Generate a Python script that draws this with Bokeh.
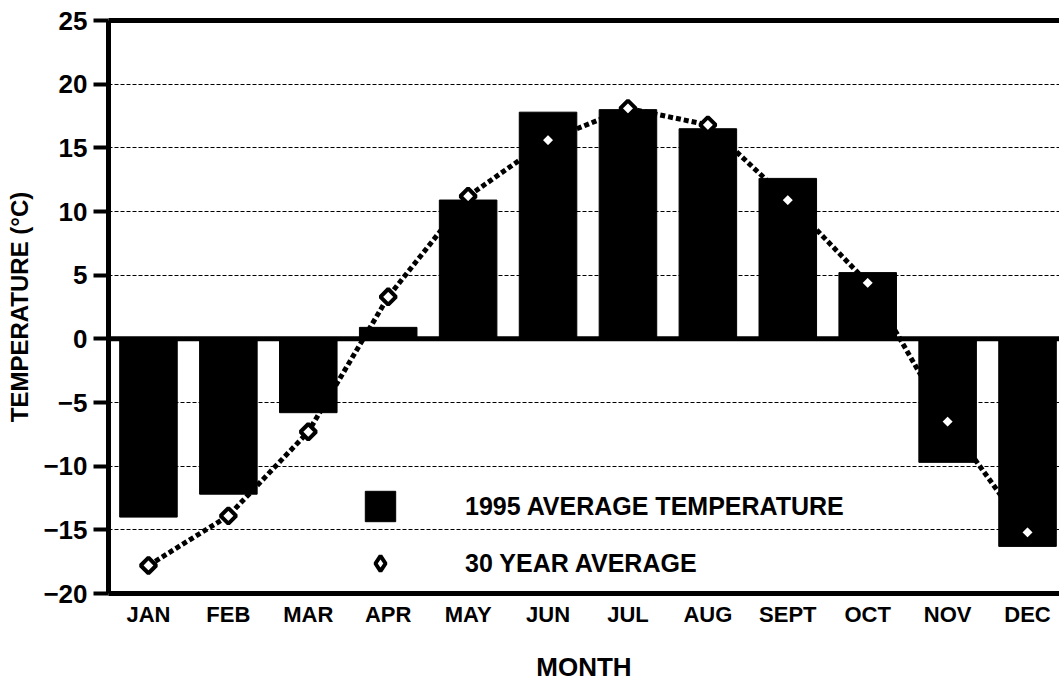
import numpy as np
from bokeh.plotting import figure
from bokeh.models import (Range1d, FixedTicker, LinearAxis, Span, Legend,
                          LegendItem, ColumnDataSource)
from bokeh.embed import file_html
from bokeh.resources import INLINE

months = ["JAN", "FEB", "MAR", "APR", "MAY", "JUN", "JUL", "AUG", "SEPT", "OCT", "NOV", "DEC"]
temp_1995 = [-14.0, -12.2, -5.8, 0.9, 10.9, 17.8, 18.0, 16.5, 12.6, 5.2, -9.7, -16.3]
avg_30yr = [-17.8, -13.9, -7.3, 3.3, 11.2, 15.6, 18.1, 16.8, 10.9, 4.4, -6.5, -15.2]
y_ticks = [-20, -15, -10, -5, 0, 5, 10, 15, 20, 25]
grid_ticks = [-15, -10, -5, 5, 10, 15, 20]

xpos = list(range(len(months)))
src = ColumnDataSource(dict(x=xpos, month=months, t1995=temp_1995, avg=avg_30yr))

FONT = "Liberation Sans"

p = figure(width=1059, height=684,
           x_range=Range1d(-0.5, 11.4), y_range=Range1d(-20, 25),
           output_backend="svg", toolbar_location=None,
           min_border_left=108, min_border_right=0,
           min_border_top=20, min_border_bottom=89)
p.outline_line_color = None
p.background_fill_color = "white"
p.border_fill_color = "white"

# grid
p.xgrid.visible = False
p.ygrid.ticker = FixedTicker(ticks=grid_ticks)
p.ygrid.grid_line_color = "black"
p.ygrid.grid_line_width = 1
p.ygrid.grid_line_dash = "4 2"

# y axis
ya = p.yaxis[0]
ya.ticker = FixedTicker(ticks=y_ticks)
ya.axis_line_width = 5
ya.axis_line_color = "black"
ya.major_tick_out = 15
ya.major_tick_in = 0
ya.major_tick_line_width = 4
ya.minor_tick_line_color = None
ya.major_label_text_font = FONT
ya.major_label_text_font_style = "bold"
ya.major_label_text_font_size = "26px"
ya.major_label_text_color = "black"
ya.major_label_standoff = 6
ya.axis_label = "TEMPERATURE (°C)"
ya.axis_label_text_font = FONT
ya.axis_label_text_font_style = "bold"
ya.axis_label_text_font_size = "24px"
ya.axis_label_text_color = "black"
ya.axis_label_standoff = 7

# x axis
xa = p.xaxis[0]
xa.ticker = FixedTicker(ticks=xpos)
xa.major_label_overrides = {i: m for i, m in zip(xpos, months)}
xa.axis_line_width = 5
xa.axis_line_color = "black"
xa.major_tick_out = 0
xa.major_tick_in = 0
xa.minor_tick_line_color = None
xa.major_label_text_font = FONT
xa.major_label_text_font_style = "bold"
xa.major_label_text_font_size = "22px"
xa.major_label_text_color = "black"
xa.major_label_standoff = 8
xa.axis_label = "MONTH"
xa.axis_label_text_font = FONT
xa.axis_label_text_font_style = "bold"
xa.axis_label_text_font_size = "26px"
xa.axis_label_text_color = "black"
xa.axis_label_standoff = 22

# top border line
top = LinearAxis(ticker=FixedTicker(ticks=[]), axis_line_width=5, axis_line_color="black",
                 major_tick_out=0, major_tick_in=0, minor_tick_line_color=None,
                 major_label_text_font_size="0px")
p.add_layout(top, "above")

# zero line
p.add_layout(Span(location=0, dimension="width", line_color="black", line_width=5))

bars = p.vbar(x="x", top="t1995", bottom=0, width=0.72, source=src,
              fill_color="black", line_color="black")
p.line(x="x", y="avg", source=src, line_color="black", line_width=5, line_dash="5 3")
p.scatter(x="x", y="avg", source=src, marker="square", angle=0.7853981634,
          size=11, line_width=4, fill_color="white", line_color="black")

# legend-only proxy glyph (no visible point) for the diamond shown in the key
key_src = ColumnDataSource(dict(x=np.array([np.nan]), y=np.array([np.nan])))
key_pts = p.scatter(x="x", y="y", source=key_src, marker="diamond", size=17,
                    line_width=4, fill_color="white", line_color="black")

legend = Legend(items=[LegendItem(label="1995 AVERAGE TEMPERATURE", renderers=[bars]),
                       LegendItem(label="30 YEAR AVERAGE", renderers=[key_pts])],
                location=(253, 11), glyph_width=38, glyph_height=38,
                label_standoff=66, spacing=19, padding=0, margin=0,
                background_fill_alpha=0, border_line_alpha=0,
                label_text_font=FONT, label_text_font_style="bold",
                label_text_font_size="25px", label_text_color="black")
p.add_layout(legend)

open("out.html", "w").write(file_html(p, INLINE))
